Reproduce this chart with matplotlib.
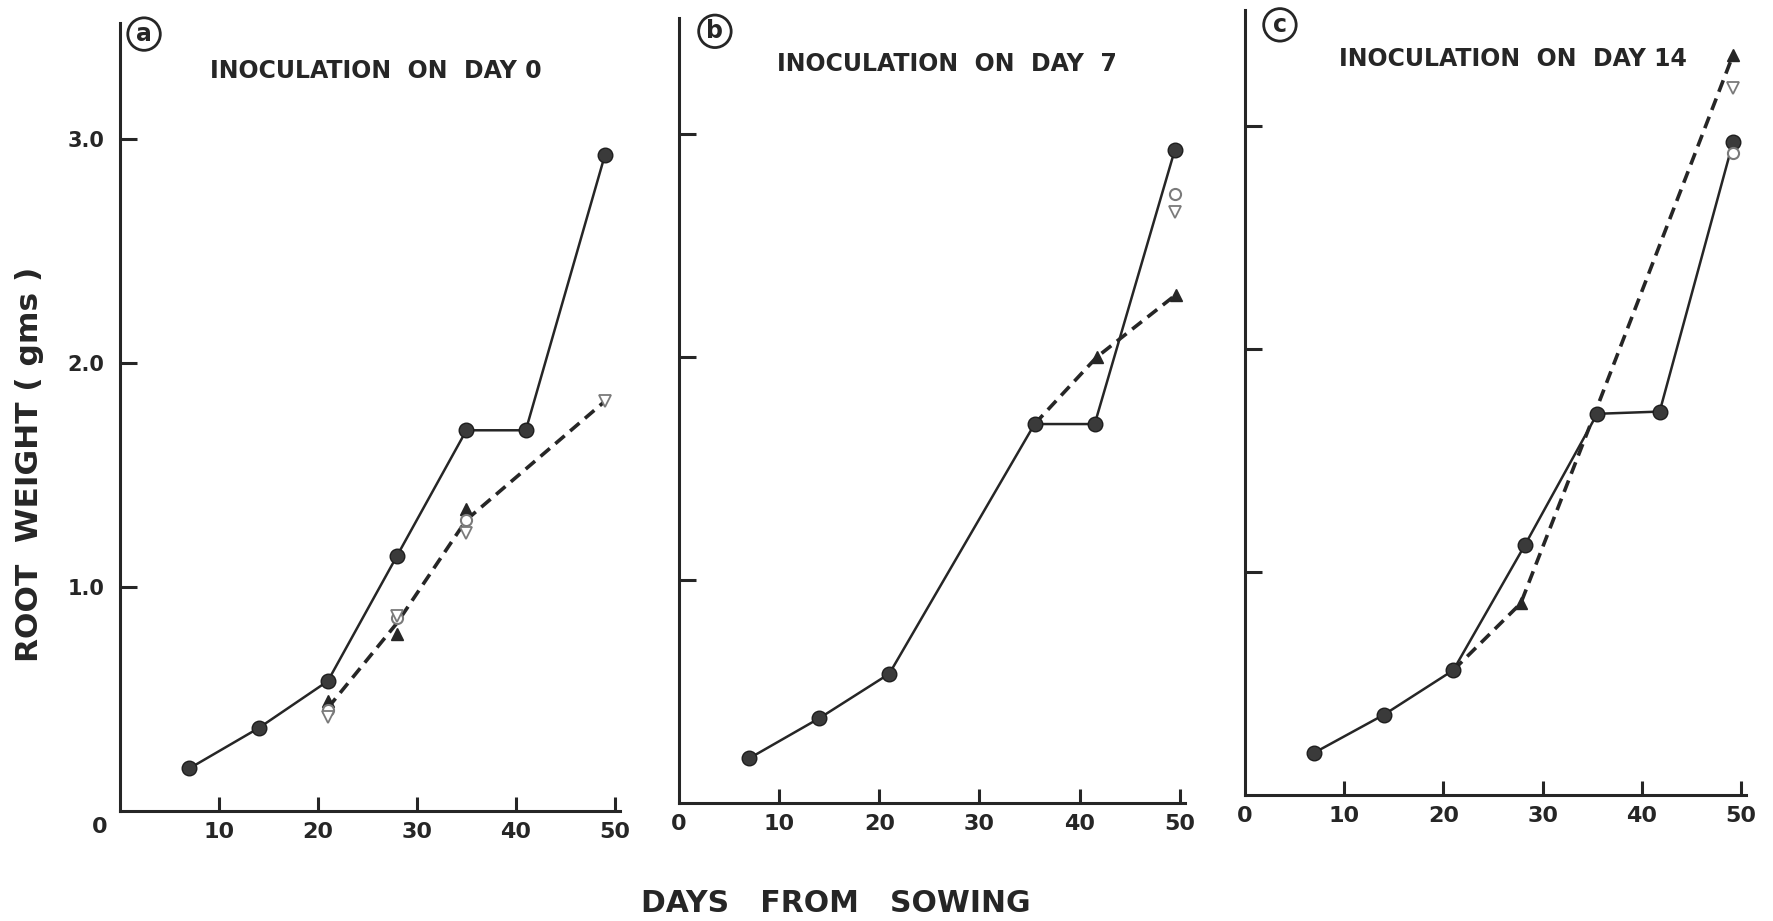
import matplotlib.pyplot as plt
import matplotlib.transforms as mtransforms

# panel a : inoculation on day 0
a_days = [7, 14, 21, 28, 35, 41, 49]
a_control = [0.19, 0.37, 0.58, 1.14, 1.70, 1.70, 2.93]
a_dash_days = [21, 28, 35, 49]
a_dash = [0.46, 0.84, 1.30, 1.83]
a_tri_days = [21, 28, 35]
a_tri = [0.49, 0.79, 1.35]
a_circ_days = [21, 28, 35]
a_circ = [0.45, 0.86, 1.30]
a_down_days = [21, 28, 35, 49]
a_down = [0.42, 0.87, 1.24, 1.83]

# panel b : inoculation on day 7
b_days = [7, 14, 21, 35.5, 41.5, 49.5]
b_control = [0.20, 0.38, 0.58, 1.70, 1.70, 2.93]
b_dash_days = [35.5, 41.7, 49.6]
b_dash = [1.70, 2.00, 2.28]
b_tri_days = [41.7, 49.6]
b_tri = [2.00, 2.28]
b_circ_days = [49.5]
b_circ = [2.73]
b_down_days = [49.5]
b_down = [2.65]

# panel c : inoculation on day 14
c_days = [7, 14, 21, 28.2, 35.5, 41.8, 49.2]
c_control = [0.19, 0.36, 0.56, 1.12, 1.71, 1.72, 2.93]
c_dash_days = [21, 27.8, 35.5, 49.2]
c_dash = [0.56, 0.86, 1.74, 3.32]
c_tri_days = [27.8, 49.2]
c_tri = [0.86, 3.32]
c_circ_days = [49.2]
c_circ = [2.88]
c_down_days = [49.2]
c_down = [3.17]

x_ticks = [0, 10, 20, 30, 40, 50]
y_ticks = [1.0, 2.0, 3.0]
y_labels = ['1.0', '2.0', '3.0']

ink = '#262626'
grey = '#7a7a7a'

fig = plt.figure(figsize=(17.74, 9.21), dpi=100)


def draw_panel(rect, days, control, dash_days, dash, tri_days, tri,
               circ_days, circ, down_days, down, title, title_x, title_y,
               letter, letter_xy, ylabels):
    ax = fig.add_axes(rect)
    ax.plot(dash_days, dash, ls=(0, (3.4, 2.0)), lw=2.6, color=ink, zorder=2)
    ax.plot(days, control, '-', lw=1.8, color=ink, marker='o', ms=10.5,
            mfc='#3a3a3a', mec='#1e1e1e', zorder=3)
    ax.plot(tri_days, tri, '^', ms=8.5, color=ink, zorder=4)
    ax.plot(circ_days, circ, 'o', ms=8, mfc='white', mec=grey, mew=1.5, zorder=4)
    ax.plot(down_days, down, 'v', ms=8, mfc='white', mec=grey, mew=1.3, zorder=4)

    ax.set_xlim(0, 50.5)
    ax.set_ylim(0, 3.52)
    for s in ['top', 'right']:
        ax.spines[s].set_visible(False)
    for s in ['left', 'bottom']:
        ax.spines[s].set_linewidth(2.2)
        ax.spines[s].set_color(ink)

    ax.set_xticks(x_ticks)
    ax.set_xticklabels([str(t) for t in x_ticks])
    ax.set_yticks(y_ticks)
    if ylabels:
        ax.set_yticklabels(y_labels)
    else:
        ax.set_yticklabels([])
    ax.tick_params(axis='x', direction='in', length=10, width=2.2, color=ink,
                   pad=8, labelsize=16, labelcolor=ink)
    ax.tick_params(axis='y', direction='in', length=12, width=2.2, color=ink,
                   pad=11, labelsize=15, labelcolor=ink)
    for lab in ax.get_xticklabels() + ax.get_yticklabels():
        lab.set_fontweight('bold')
    # no tick mark at the origin
    ax.xaxis.get_major_ticks()[0].tick1line.set_visible(False)

    fig.text(title_x, title_y, title, ha='center', va='center', fontsize=17,
             fontweight='bold', color=ink)
    fig.text(letter_xy[0], letter_xy[1], letter, ha='center', va='center',
             fontsize=17, fontweight='bold', color=ink,
             bbox=dict(boxstyle='circle,pad=0.18', fc='white', ec=ink, lw=2))
    return ax


ax_a = draw_panel([0.0676, 0.1194, 0.2818, 0.856], a_days, a_control,
                  a_dash_days, a_dash, a_tri_days, a_tri, a_circ_days, a_circ,
                  a_down_days, a_down, 'INOCULATION  ON  DAY 0', 0.2117, 0.923,
                  'a', (0.0812, 0.963), True)
ax_b = draw_panel([0.3827, 0.1281, 0.2852, 0.852], b_days, b_control,
                  b_dash_days, b_dash, b_tri_days, b_tri, b_circ_days, b_circ,
                  b_down_days, b_down, 'INOCULATION  ON  DAY  7', 0.534, 0.930,
                  'b', (0.403, 0.966), False)
ax_c = draw_panel([0.7018, 0.1368, 0.2824, 0.852], c_days, c_control,
                  c_dash_days, c_dash, c_tri_days, c_tri, c_circ_days, c_circ,
                  c_down_days, c_down, 'INOCULATION  ON  DAY 14', 0.853, 0.936,
                  'c', (0.7215, 0.973), False)

# the "0" of panel a sits left of the origin
zero = ax_a.get_xticklabels()[0]
zero.set_transform(zero.get_transform() +
                   mtransforms.ScaledTranslation(-0.2, 0.05, fig.dpi_scale_trans))

fig.text(0.0169, 0.496, 'ROOT  WEIGHT ( gms )', rotation=90, ha='center',
         va='center', fontsize=22.5, fontweight='bold', color=ink)
fig.text(0.471, 0.0185, 'DAYS   FROM   SOWING', ha='center', va='center',
         fontsize=21.5, fontweight='bold', color=ink)

fig.savefig('out.png', dpi=100, facecolor='white')
